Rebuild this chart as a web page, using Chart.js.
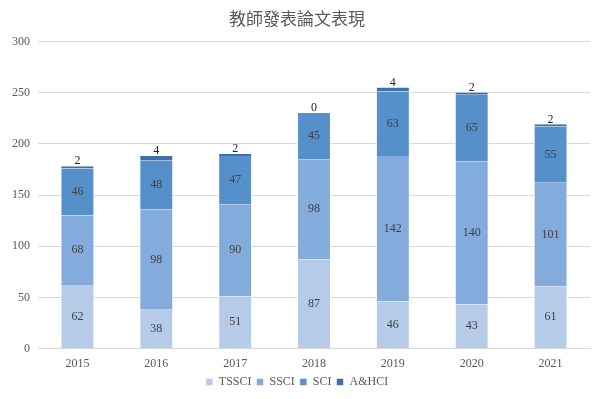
<!DOCTYPE html>
<html><head><meta charset="utf-8">
<script src="https://cdn.jsdelivr.net/npm/chart.js@4.4.0/dist/chart.umd.min.js"></script>
<style>html,body{margin:0;padding:0;background:#fff}#w{width:600px;height:399px}</style>
</head><body><div id="w"><canvas id="c" width="600" height="399"></canvas></div>
<script>
const years = ['2015','2016','2017','2018','2019','2020','2021'];
const tssci = [62,38,51,87,46,43,61];
const ssci = [68,98,90,98,142,140,101];
const sci = [46,48,47,45,63,65,55];
const ahci = [2,4,2,0,4,2,2];
const seriesNames = ['TSSCI','SSCI','SCI','A&HCI'];
const colors = ['#B6CBE8','#83ACDC','#5690CB','#3E70AA'];
const serif = '"Liberation Serif", "DejaVu Serif", serif';

const labelPlugin = {
  id:'labels',
  afterDatasetsDraw(chart){
    const ctx = chart.ctx;
    ctx.save();
    ctx.font = '12px ' + serif;
    ctx.textAlign = 'center';
    ctx.textBaseline = 'middle';
    chart.data.datasets.forEach((ds,di)=>{
      const meta = chart.getDatasetMeta(di);
      meta.data.forEach((el,i)=>{
        const v = ds.data[i];
        let y;
        if (di === 3) y = el.y - 5;
        else y = (el.y + el.base)/2;
        ctx.fillStyle = di===3 ? '#262626' : '#404040';
        ctx.fillText(String(v), el.x, y);
      });
    });
    ctx.restore();
  }
};

new Chart(document.getElementById('c'), {
  type:'bar',
  data:{labels:years, datasets:[tssci,ssci,sci,ahci].map((d,i)=>({
    label:seriesNames[i], data:d, backgroundColor:colors[i], borderColor:'#ffffff', borderWidth:{left:1,right:1,top:0,bottom:0},
    categoryPercentage:1, barPercentage:0.43
  }))},
  options:{
    responsive:false, animation:false,
    layout:{padding:{left:4,right:10,top:4,bottom:1}},
    plugins:{
      title:{display:true,text:'教師發表論文表現',color:'#595959',font:{family:'"Noto Sans CJK TC", sans-serif',size:17,weight:'normal'},padding:{top:4,bottom:13}},
      legend:{position:'bottom',labels:{boxWidth:7,boxHeight:7,color:'#595959',font:{family:serif,size:12},padding:5}},
      tooltip:{enabled:false}
    },
    scales:{
      x:{stacked:true,grid:{display:false},border:{color:'#D9D9D9'},ticks:{color:'#595959',font:{family:serif,size:12},padding:0}},
      y:{stacked:true,min:0,max:300,ticks:{stepSize:50,color:'#595959',font:{family:serif,size:12},padding:8},grid:{color:'#D9D9D9',drawTicks:false},border:{display:false}}
    }
  },
  plugins:[labelPlugin]
});
</script></body></html>
